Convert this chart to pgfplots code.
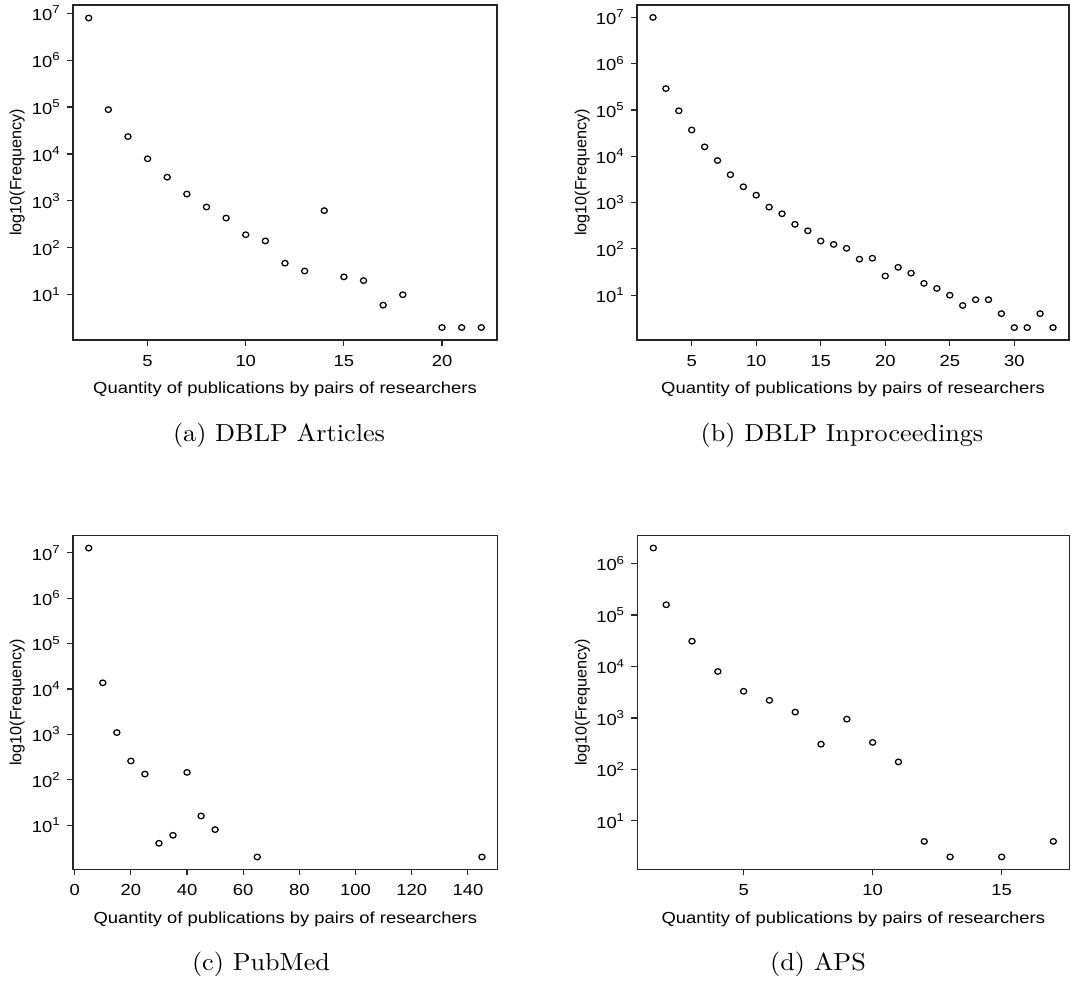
\documentclass[border=0pt]{standalone}
\usepackage{fontspec}
\usepackage{graphicx}
\usepackage{pgfplots}
\pgfplotsset{compat=1.18}
\newfontfamily\rfont[FakeStretch=1.15]{Liberation Sans}
\newfontfamily\rfontn{Liberation Sans}
\newfontfamily\capfont{lmroman10-regular}[Extension=.otf]
\newcommand{\rtick}{\rfont\fontsize{16}{19}\selectfont}
\newcommand{\pw}[1]{10\raisebox{0.42em}{\fontsize{11.5}{12}\selectfont #1}}
\newcommand{\subcap}[1]{\scalebox{1.065}[1]{\capfont\fontsize{24.6}{30}\selectfont #1}}

\pgfplotstableread{
x y
2 7.9e6
3 8.8e4
4 2.35e4
5 7.9e3
6 3.2e3
7 1.4e3
8 740
9 430
10 190
11 140
12 47
13 32
14 620
15 24
16 20
17 6
18 10
20 2
21 2
22 2
}\dataA
\pgfplotstableread{
x y
2 1e7
3 2.9e5
4 9.6e4
5 3.7e4
6 1.6e4
7 8.1e3
8 4.0e3
9 2.2e3
10 1.45e3
11 800
12 575
13 340
14 246
15 148
16 125
17 103
18 60
19 63
20 26
21 40
22 30
23 18
24 14
25 10
26 6
27 8
28 8
29 4
30 2
31 2
32 4
33 2
}\dataB
\pgfplotstableread{
x y
5 1.27e7
10 1.37e4
15 1.1e3
20 260
25 134
30 4
35 6
40 146
45 16
50 8
65 2
145 2
}\dataC
\pgfplotstableread{
x y
1.5 2e6
2 1.58e5
3 3.1e4
4 8e3
5 3.3e3
6 2.2e3
7 1.3e3
8 310
9 950
10 335
11 140
12 4
13 2
15 2
17 4
}\dataD

\pgfplotsset{
  every axis/.append style={
    scale only axis,
    axis line style={line width=1.3pt, black!85},
    tick style={line width=1.1pt, black!85},
    tick align=outside,
    tick pos=left,
    major tick length=6pt,
    yminorticks=false,
    xminorticks=false,
    tick label style={font=\rtick, inner sep=0pt},
    yticklabel shift=7pt,
    xticklabel shift=9pt,
    xlabel={Quantity of publications by pairs of researchers},
    ylabel={log10(Frequency)},
    anchor=south west,
  },
  every axis x label/.style={anchor=north, inner sep=0pt, font=\rtick},
  every axis y label/.style={rotate=90, anchor=south, inner sep=0pt, font=\rfontn\fontsize{16.2}{19}\selectfont},
}

\begin{document}
\begin{tikzpicture}
\useasboundingbox (0,0) rectangle (1071pt,983pt);

% (a)
\begin{semilogyaxis}[at={(73pt,643pt)}, width=424pt, height=335pt,
  xmin=1.2, xmax=22.8, ymin=1.084, ymax=1.496e7,
  ytick={10,100,1000,10000,100000,1000000,10000000},
  yticklabels={\pw{1},\pw{2},\pw{3},\pw{4},\pw{5},\pw{6},\pw{7}},
  xtick={5,10,15,20}, xticklabels={5,10,15,20},
  xlabel style={at={(axis description cs:0.5,-0.1254)}},
  ylabel style={at={(axis description cs:-0.1132,0.5)}}]
\addplot[only marks, mark=o, mark size=2.8pt, mark options={line width=1.25pt, black, xscale=1.1}] table[x=x,y=y] {\dataA};
\end{semilogyaxis}

% (b)
\begin{semilogyaxis}[at={(637pt,643pt)}, width=432pt, height=335pt,
  xmin=0.76, xmax=34.24, ymin=1.079, ymax=1.854e7,
  ytick={10,100,1000,10000,100000,1000000,10000000},
  yticklabels={\pw{1},\pw{2},\pw{3},\pw{4},\pw{5},\pw{6},\pw{7}},
  xtick={5,10,15,20,25,30}, xticklabels={5,10,15,20,25,30},
  xlabel style={at={(axis description cs:0.5,-0.1254)}},
  ylabel style={at={(axis description cs:-0.1088,0.5)}}]
\addplot[only marks, mark=o, mark size=2.8pt, mark options={line width=1.25pt, black, xscale=1.1}] table[x=x,y=y] {\dataB};
\end{semilogyaxis}

% (c)
\begin{semilogyaxis}[at={(73pt,113.7pt)}, width=424.7pt, height=333.6pt,
  xmin=-0.6, xmax=150.6, ymin=1.07, ymax=2.38e7,
  ytick={10,100,1000,10000,100000,1000000,10000000},
  yticklabels={\pw{1},\pw{2},\pw{3},\pw{4},\pw{5},\pw{6},\pw{7}},
  xtick={0,20,40,60,80,100,120,140}, xticklabels={0,20,40,60,80,100,120,140},
  xlabel style={at={(axis description cs:0.5,-0.1259)}},
  ylabel style={at={(axis description cs:-0.113,0.5)}}]
\addplot[only marks, mark=o, mark size=2.8pt, mark options={line width=1.25pt, black, xscale=1.1}] table[x=x,y=y] {\dataC};
\end{semilogyaxis}

% (d)
\begin{semilogyaxis}[at={(637.3pt,113.7pt)}, width=432pt, height=333.6pt,
  xmin=0.88, xmax=17.62, ymin=1.15, ymax=3.47e6,
  ytick={10,100,1000,10000,100000,1000000},
  yticklabels={\pw{1},\pw{2},\pw{3},\pw{4},\pw{5},\pw{6}},
  xtick={5,10,15}, xticklabels={5,10,15},
  xlabel style={at={(axis description cs:0.5,-0.1259)}},
  ylabel style={at={(axis description cs:-0.1088,0.5)}}]
\addplot[only marks, mark=o, mark size=2.8pt, mark options={line width=1.25pt, black, xscale=1.1}] table[x=x,y=y] {\dataD};
\end{semilogyaxis}

\node[anchor=base, inner sep=0pt] at (279pt,541.8pt) {\subcap{(a) DBLP Articles}};
\node[anchor=base, inner sep=0pt] at (842pt,541.8pt) {\subcap{(b) DBLP Inproceedings}};
\node[anchor=base, inner sep=0pt] at (261pt,12.7pt) {\subcap{(c) PubMed}};
\node[anchor=base, inner sep=0pt] at (818pt,12.7pt) {\subcap{(d) APS}};
\end{tikzpicture}
\end{document}
